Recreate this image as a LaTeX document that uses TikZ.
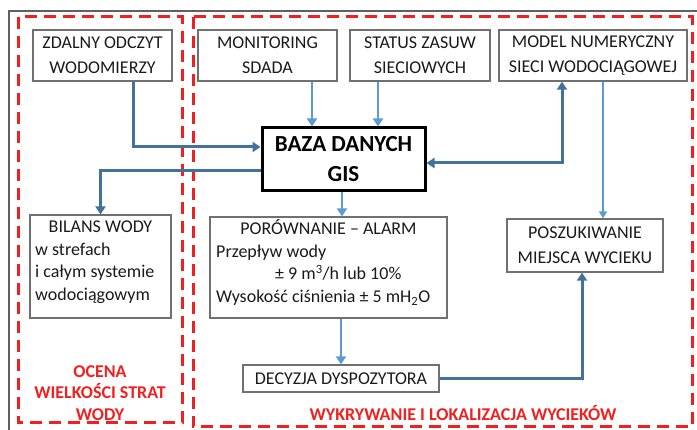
\documentclass[tikz,border=0pt]{standalone}
\usepackage{fontspec}
\setmainfont{Carlito}
\usetikzlibrary{arrows.meta}
\definecolor{dkblue}{HTML}{41719C}
\definecolor{ltblue}{HTML}{5B9BD5}
\definecolor{boxgray}{HTML}{707070}
\definecolor{redd}{HTML}{F02020}
\definecolor{txt}{HTML}{1A1A1A}
\definecolor{framegray}{HTML}{606060}
\begin{document}
\begin{tikzpicture}[x=1pt,y=-1pt,
  box/.style={draw=boxgray, line width=1.3pt, inner sep=0pt, text=txt, align=center, font=\fontsize{18}{25}\selectfont},
  txtl/.style={inner sep=0pt, text=txt, font=\fontsize{18}{22}\selectfont},
  redlbl/.style={inner sep=0pt, text=redd, font=\bfseries\fontsize{18}{21.5}\selectfont, align=center},
  dk/.style={draw=dkblue, line width=3pt, -{Triangle[length=8pt,width=10pt]}},
  lt/.style={draw=ltblue, line width=2.8pt, -{Triangle[length=8pt,width=10pt]}},
  zone/.style={draw=redd, line width=3pt, dash pattern=on 12pt off 7pt}]
\useasboundingbox (0,0) rectangle (697,430);
\draw[framegray, line width=1.5pt] (9,430) -- (9,11) -- (697,11);
\draw[zone] (18,17) rectangle (182,423);
\draw[zone] (193,17) rectangle (692,427);

% top row
\node[box, minimum width=139pt, minimum height=51pt] (zdalny) at (102.5,55.5) {ZDALNY ODCZYT\\WODOMIERZY};
\node[box, minimum width=139pt, minimum height=51pt] (monit) at (267.5,55.5) {MONITORING\\SDADA};
\node[box, minimum width=140pt, minimum height=51pt] (status) at (420,55.5) {STATUS ZASUW\\SIECIOWYCH};
\node[box, minimum width=188pt, minimum height=51pt] (model) at (593,55.5) {MODEL NUMERYCZNY\\SIECI WODOCIĄGOWEJ};

% central
\node[draw=black, line width=3pt, minimum width=163pt, minimum height=63pt, inner sep=0pt, align=center,
      font=\bfseries\fontsize{23}{30}\selectfont] (baza) at (343.5,159.5) {BAZA DANYCH\\GIS};

% lower boxes
\node[box, minimum width=141pt, minimum height=103pt] (bilans) at (100.5,266.5) {};
\node[txtl, anchor=base] (bil1) at (100.5,233) {BILANS WODY};
\node[txtl, anchor=base west] (bil2) at (35,255.5) {w strefach};
\node[txtl, anchor=base west] (bil3) at (35,278) {i całym systemie};
\node[txtl, anchor=base west] (bil4) at (35,300.5) {wodociągowym};

\node[box, minimum width=237pt, minimum height=101pt] (porow) at (328.5,267.5) {};
\node[txtl, anchor=base] (por1) at (328.5,235) {PORÓWNANIE – ALARM};
\node[txtl, anchor=base west] (por2) at (216,257.5) {Przepływ wody};
\node[txtl, anchor=base west] (por3) at (275,280) {± 9 m\textsuperscript{3}/h lub 10\%};
\node[txtl, anchor=base west] (por4) at (216,302.5) {Wysokość ciśnienia ± 5 mH\textsubscript{2}O};

\node[box, minimum width=156pt, minimum height=53pt] (poszuk) at (585,245.5) {POSZUKIWANIE\\MIEJSCA WYCIEKU};
\node[box, minimum width=196pt, minimum height=27pt] (decyzja) at (341,378.5) {DECYZJA DYSPOZYTORA};

% zone labels
\node[redlbl] (ocena) at (100,393) {OCENA\\WIELKOŚCI STRAT\\WODY};
\node[redlbl] (wykr) at (463,413) {WYKRYWANIE I LOKALIZACJA WYCIEKÓW};

% connectors
\draw[dk] ([xshift=30.5pt]zdalny.south) |- ([yshift=12.5pt]baza.west);
\draw[dk] ([yshift=-11.5pt]baza.west) -| (bilans.north);
\draw[lt] ([xshift=44.5pt]monit.south) -- ([xshift=44.5pt]monit.south |- baza.north);
\draw[lt] ([xshift=-42pt]status.south) -- ([xshift=-42pt]status.south |- baza.north);
\draw[dk, {Triangle[length=8pt,width=10pt]}-{Triangle[length=8pt,width=10pt]}] ([yshift=-3.5pt]baza.east) -| ([xshift=-31pt]model.south);
\draw[lt, line width=1.6pt, -{Triangle[length=7pt,width=8pt]}] ([xshift=10pt]model.south) -- ([xshift=10pt]model.south |- poszuk.north);
\draw[lt] ([xshift=-1.5pt]baza.south) -- ([xshift=-1.5pt]baza.south |- porow.north);
\draw[lt] (decyzja.north |- porow.south) -- (decyzja.north);
\draw[dk] (decyzja.east) -| ([xshift=-3pt]poszuk.south);
\end{tikzpicture}
\end{document}
